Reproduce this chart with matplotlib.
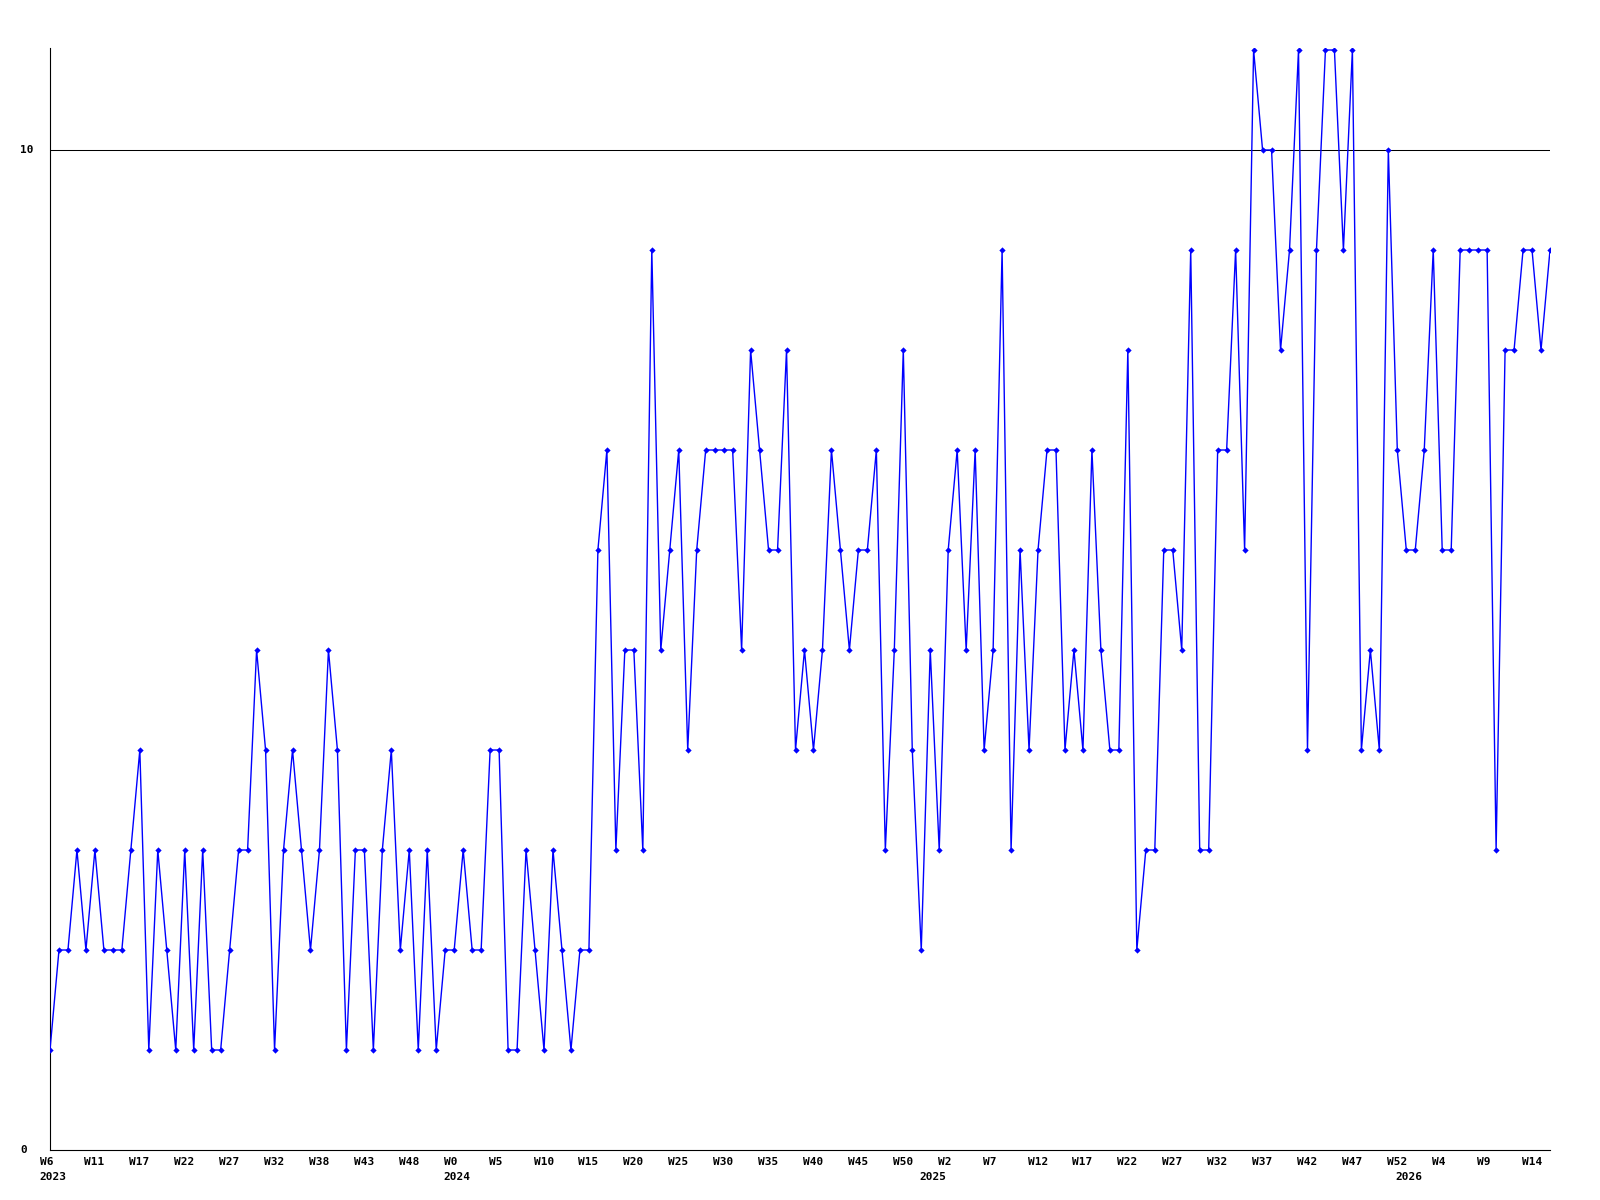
import matplotlib
matplotlib.use("Agg")
import matplotlib.pyplot as plt
from matplotlib.transforms import blended_transform_factory, ScaledTranslation

# ---- data ----
values = [
    1, 2, 2, 3, 2, 3, 2, 2, 2, 3, 4, 1, 3, 2, 1, 3, 1, 3, 1, 1,
    2, 3, 3, 5, 4, 1, 3, 4, 3, 2, 3, 5, 4, 1, 3, 3, 1, 3, 4, 2,
    3, 1, 3, 1, 2, 2, 3, 2, 2, 4, 4, 1, 1, 3, 2, 1, 3, 2, 1, 2,
    2, 6, 7, 3, 5, 5, 3, 9, 5, 6, 7, 4, 6, 7, 7, 7, 7, 5, 8, 7,
    6, 6, 8, 4, 5, 4, 5, 7, 6, 5, 6, 6, 7, 3, 5, 8, 4, 2, 5, 3,
    6, 7, 5, 7, 4, 5, 9, 3, 6, 4, 6, 7, 7, 4, 5, 4, 7, 5, 4, 4,
    8, 2, 3, 3, 6, 6, 5, 9, 3, 3, 7, 7, 9, 6, 11, 10, 10, 8, 9, 11,
    4, 9, 11, 11, 9, 11, 4, 5, 4, 10, 7, 6, 6, 7, 9, 6, 6, 9, 9, 9,
    9, 3, 8, 8, 9, 9, 8, 9,
]
week_labels = [
    "W6", "W11", "W17", "W22", "W27", "W32", "W38", "W43", "W48",
    "W0", "W5", "W10", "W15", "W20", "W25", "W30", "W35", "W40", "W45", "W50",
    "W2", "W7", "W12", "W17", "W22", "W27", "W32", "W37", "W42", "W47", "W52",
    "W4", "W9", "W14",
]
year_labels = ["2023", "2024", "2025", "2026"]
y_tick_values = [0, 10]

# ---- layout ----
year_anchor_index = [0, 45, 98, 151]
tick_step = 5

W, H, DPI = 1600, 1200, 100
fig = plt.figure(figsize=(W / DPI, H / DPI), dpi=DPI, facecolor="white")
ax = fig.add_axes([50 / W, 50 / H, 1500 / W, 1102 / H])
ax.set_facecolor("white")

n = len(values)
x = list(range(n))
ax.set_xlim(0, n - 1)
ax.set_ylim(0, 11.02)

ax.axhline(10, color="black", lw=0.75, zorder=1)
ax.plot(x, values, color="#0000ff", lw=1.0, marker="D", ms=3.2, mew=0,
        zorder=3)

for side in ("top", "right"):
    ax.spines[side].set_visible(False)
for side in ("left", "bottom"):
    ax.spines[side].set_color("black")
    ax.spines[side].set_linewidth(0.8)

ax.set_xticks([])
ax.set_yticks([])

font = dict(family="DejaVu Sans Mono", weight="bold", size=8, color="black")
tx = blended_transform_factory(ax.transData, ax.transAxes)
ty = blended_transform_factory(ax.transAxes, ax.transData)

tick_positions = list(range(0, n, tick_step))
for pos, lab in zip(tick_positions, week_labels):
    ax.text(pos, 0, lab, ha="left", va="top",
            transform=tx + ScaledTranslation(-10.5 / DPI, -7 / DPI, fig.dpi_scale_trans),
            **font)

for pos, lab in zip(year_anchor_index, year_labels):
    ax.text(pos, 0, lab, ha="left", va="top",
            transform=tx + ScaledTranslation(-10.5 / DPI, -22 / DPI, fig.dpi_scale_trans),
            **font)

for v in y_tick_values:
    ax.text(0, v, str(v), ha="left", va="center",
            transform=ty + ScaledTranslation(-30 / DPI, 0, fig.dpi_scale_trans),
            **font)

fig.savefig("out.png", dpi=DPI, facecolor="white")
